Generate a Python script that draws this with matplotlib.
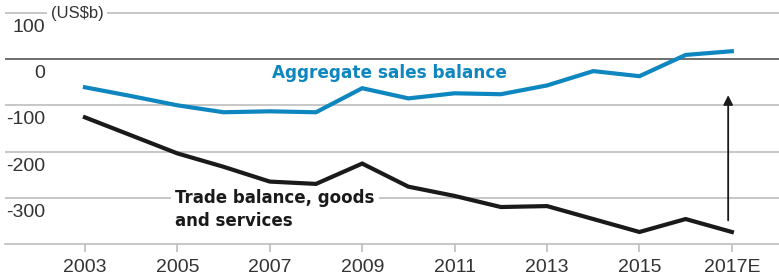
import numpy as np
import matplotlib
matplotlib.use('Agg')
import matplotlib.pyplot as plt

# data (US$b)
years = [2003, 2004, 2005, 2006, 2007, 2008, 2009, 2010, 2011, 2012,
         2013, 2014, 2015, 2016, 2017]
aggregate_sales = [-61, -80, -100, -115, -113, -115, -63, -85, -74, -76,
                   -57, -26, -37, 9, 17]
trade_balance = [-126, -165, -204, -233, -265, -270, -226, -276, -296, -320,
                 -318, -346, -374, -346, -374]
xtick_years = [2003, 2005, 2007, 2009, 2011, 2013, 2015, 2017]
xtick_labels = ['2003', '2005', '2007', '2009', '2011', '2013', '2015', '2017E']
ytick_vals = [100, 0, -100, -200, -300]

blue = '#0e86bf'
grid_c = '#bdbdbd'
txt_c = '#333333'

plt.rcParams['font.family'] = ['Liberation Sans', 'DejaVu Sans']

fig = plt.figure(figsize=(7.79, 2.75), dpi=100)
ax = fig.add_axes([5/779., 1-244/275., 1-5/779., 239/275.])
ax.set_xlim(2001.27, 2018.02)
ax.set_ylim(-400, 117)

for v in ytick_vals:
    ax.axhline(v, color='#555555' if v == 0 else grid_c,
               lw=1.2, zorder=1)
    ax.text(0.052, v - 13, str(v), transform=ax.get_yaxis_transform(),
            ha='right', va='top', fontsize=14, color=txt_c)

ax.text(0.059, 98, '(US$b)', transform=ax.get_yaxis_transform(),
        ha='left', va='center', fontsize=12, color=txt_c,
        bbox=dict(facecolor='white', edgecolor='none', pad=2.5), zorder=2)

ax.plot(years, aggregate_sales, color=blue, lw=3.0,
        solid_joinstyle='miter', zorder=3)
ax.plot(years, trade_balance, color='#1a1a1a', lw=3.0,
        solid_joinstyle='miter', zorder=3)

ax.annotate('', xy=(2016.92, -72), xytext=(2016.92, -355),
            arrowprops=dict(arrowstyle='-|>', color='#1a1a1a', lw=1.3,
                            mutation_scale=14), zorder=4)

ax.text(2007.05, -30, 'Aggregate sales balance', color=blue,
        fontsize=12.2, fontweight='bold', ha='left', va='center',
        family='DejaVu Sans', zorder=4)
ax.text(2004.95, -282, 'Trade balance, goods\nand services', color='#1a1a1a',
        fontsize=12, fontweight='bold', ha='left', va='top',
        family='DejaVu Sans', linespacing=1.3, zorder=2,
        bbox=dict(facecolor='white', edgecolor='none', pad=3))

for s in ['top', 'right', 'left']:
    ax.spines[s].set_visible(False)
ax.spines['bottom'].set_color(grid_c)
ax.spines['bottom'].set_linewidth(1.2)
ax.set_yticks([])
ax.set_xticks(xtick_years)
ax.set_xticklabels(xtick_labels, fontsize=14, color=txt_c)
ax.tick_params(axis='x', direction='out', length=6, width=1.2,
               color=grid_c, pad=5)

plt.savefig('out.png', dpi=100)
